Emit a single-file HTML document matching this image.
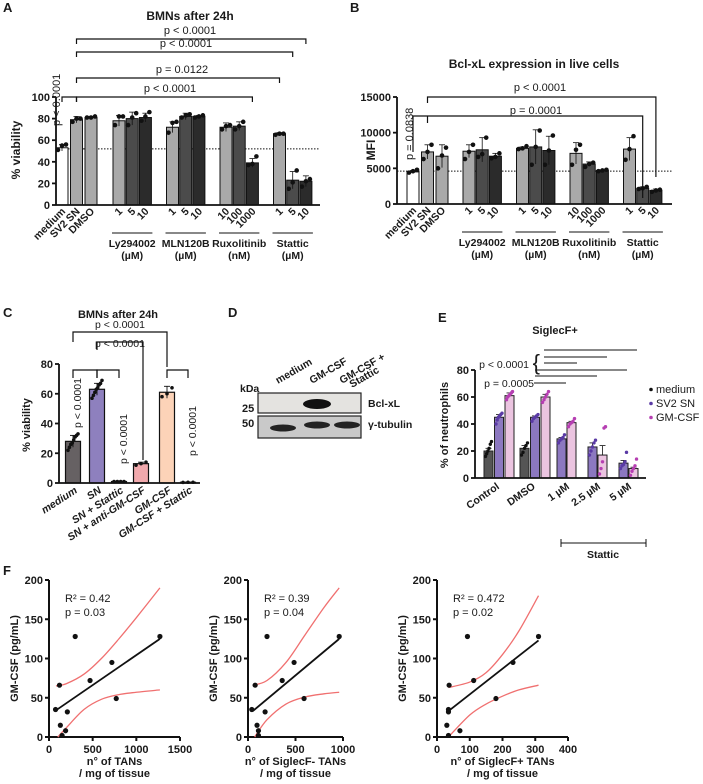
<!DOCTYPE html>
<html><head><meta charset="utf-8">
<style>
html,body{margin:0;padding:0;background:#fff;}
svg{display:block;font-family:"Liberation Sans",Arial,sans-serif;}
text{fill:#1a1a1a;}
</style></head>
<body>
<svg id="fig" width="703" height="784" viewBox="0 0 703 784" xmlns="http://www.w3.org/2000/svg"></svg>
<script>
// ---------- Panel A data ----------
const aCategories = ["medium","SV2 SN","DMSO","1","5","10","1","5","10","10","100","1000","1","5","10"];
const aValues = [53,79,81,78,80,81,72,82,82,72,73,39,66,23,22];
const aErr = [3,3,1,5,6,4,5,3,1,4,4,4,1,8,5];
const aReps = [[51,55,56],[77,80,80],[81,81,82],[74,82,82],[74,81,85],[78,82,86],[67,76,77],[81,83,84],[81,82,83],[70,73,74],[70,73,77],[37,38,45],[65,66,66],[15,21,32],[17,22,24]];
const aTicks = [0,20,40,60,80,100];
// ---------- Panel B data ----------
const bValues = [4500,7300,6700,7400,7600,6700,7800,8000,7500,7100,5600,4700,7700,2200,1900];
const bErr = [200,1000,1600,900,1700,400,200,2400,2000,1500,300,100,1600,200,200];
const bReps = [[4400,4600,4800],[6300,7300,8300],[5000,6800,7900],[6300,7300,8300],[6600,7000,9300],[6400,6600,7100],[7700,7800,8100],[5500,8000,10300],[5500,7500,9600],[5500,7600,8300],[5200,5600,5800],[4600,4700,4800],[6200,7700,9500],[2100,2200,2400],[1700,1900,2000]];
const bTicks = [0,5000,10000,15000];
const groupLabels = [["Ly294002","(\u00b5M)"],["MLN120B","(\u00b5M)"],["Ruxolitinib","(nM)"],["Stattic","(\u00b5M)"]];
// ---------- Panel C data ----------
const cCategories = ["medium","SN","SN + Stattic","SN + anti-GM-CSF","GM-CSF","GM-CSF + Stattic"];
const cValues = [28,63,1,13,61,0.5];
const cErr = [4,4,0.3,1,4,0.1];
const cReps = [[22,24,26,27,29,31,32,33],[57,59,61,63,64,66,67,69],[1,1,1,1],[12,13,14],[58,60,64],[0.4,0.5,0.5]];
const cTicks = [0,20,40,60,80];
// ---------- Panel E data ----------
const eCategories = ["Control","DMSO","1 \u00b5M","2.5 \u00b5M","5 \u00b5M"];
const eMedium = [20,22,null,null,null];
const eSV2 = [45,45,29,23,11];
const eGM = [61,60,41,17,7];
const eErrMedium = [2,2,0,0,0];
const eErrSV2 = [2,1,1,3,2];
const eErrGM = [2,2,1,7,1];
const eRepsMedium = [[16,18,20,22,25,27],[17,19,22,24,26]];
const eRepsSV2 = [[40,43,45,46,47,48],[42,44,45,46,47],[26,28,29,30,32],[17,20,23,26,28],[7,9,10,12,19]];
const eRepsGM = [[58,60,61,62,63,64],[56,58,60,62,64],[38,40,41,42,44],[3,7,12,37,38],[2,5,7,9,14]];
const eTicks = [0,20,40,60,80];
// ---------- Panel F data ----------
const f1X = [75,120,130,150,190,210,300,470,720,770,1270];
const f1Y = [35,66,15,2,8,32,128,72,95,49,128];
const f2X = [40,75,95,110,110,180,200,360,485,590,960];
const f2Y = [35,66,15,8,2,32,128,72,95,49,128];
const f3X = [30,35,35,35,37,70,93,112,180,232,310];
const f3Y = [15,2,35,32,66,8,128,72,49,95,128];
const f1Fit = [[80,34],[1270,125]];
const f2Fit = [[50,33],[960,125]];
const f3Fit = [[35,33],[310,123]];
const f1Upper = [[80,65],[200,68],[400,80],[600,100],[800,125],[1000,152],[1270,190]];
const f1Lower = [[100,0],[200,12],[400,35],[600,48],[800,54],[1000,57],[1270,60]];
const f2Upper = [[50,66],[200,72],[400,95],[600,130],[800,165],[960,190]];
const f2Lower = [[70,0],[200,22],[400,42],[600,51],[800,55],[960,57]];
const f3Upper = [[35,63],[100,70],[150,82],[200,105],[250,135],[310,180]];
const f3Lower = [[35,0],[100,28],[150,42],[200,52],[250,60],[310,66]];
const fYTicks = [0,50,100,150,200];
const f1XTicks = [0,500,1000,1500];
const f2XTicks = [0,500,1000];
const f3XTicks = [0,100,200,300,400];

const NS="http://www.w3.org/2000/svg";
const fig=document.getElementById('fig');
function mk(parent,tag,attrs,name,inter){
  const e=document.createElementNS(NS,tag);
  for(const k in attrs)e.setAttribute(k,attrs[k]);
  
  
  parent.appendChild(e);return e;
}
function txt(parent,x,y,s,size,name,opt){
  opt=opt||{};
  const a={x:x,y:y,'font-size':size};
  if(opt.bold)a['font-weight']='bold';
  if(opt.anchor)a['text-anchor']=opt.anchor;
  if(opt.rot!==undefined)a.transform='rotate('+opt.rot+' '+x+' '+y+')';
  if(opt.italic)a['font-style']='italic';
  const t=mk(parent,'text',a,name,false);t.textContent=s;return t;
}
function line(p,x1,y1,x2,y2,name,st){
  st=st||{};
  return mk(p,'line',{x1:x1,y1:y1,x2:x2,y2:y2,stroke:st.c||'#111','stroke-width':st.w||1.2,'stroke-dasharray':st.d||'none'},name,false);
}
function pline(p,pts,name,st){
  return mk(p,'polyline',{points:pts.map(q=>q.join(',')).join(' '),fill:'none',stroke:st.c||'#111','stroke-width':st.w||1.2},name,false);
}
function smooth(p,pts,name,st){
  let d='M'+pts[0][0]+','+pts[0][1];
  for(let i=0;i<pts.length-1;i++){
    const p0=pts[Math.max(0,i-1)],p1=pts[i],p2=pts[i+1],p3=pts[Math.min(pts.length-1,i+2)];
    const c1=[p1[0]+(p2[0]-p0[0])/6,p1[1]+(p2[1]-p0[1])/6],c2=[p2[0]-(p3[0]-p1[0])/6,p2[1]-(p3[1]-p1[1])/6];
    d+=' C'+c1.join(',')+' '+c2.join(',')+' '+p2.join(',');
  }
  return mk(p,'path',{d:d,fill:'none',stroke:st.c,'stroke-width':st.w},name,false);
}
function yAxis(g,x,ys,ticks,top,bottom,fs,name){
  line(g,x,top,x,bottom,name+'-line',{w:1.8});
  ticks.forEach(t=>{const y=ys(t);line(g,x-4,y,x,y,name+'-tick',{w:1.8});txt(g,x-6,y+4,String(t),fs,name+'-label',{bold:true,anchor:'end'});});
}
function bracket(g,x1,x2,y,d1,d2,name){
  pline(g,[[x1,y+d1],[x1,y],[x2,y],[x2,y+d2]],name,{w:1.2});
}

// ================= Panel A =================
(function(){
  const g=mk(fig,'g',{},'panel-a',false);
  txt(g,3,12,'A',13,'panel-label-a',{bold:true});
  const ys=v=>205-v*1.08;
  const xs=i=>{const gi=i<3?0:1+Math.floor((i-3)/3);const j=i<3?i:(i-3)%3;return (i<3?62+j*14.5:119+(gi-1)*53.5+j*13.2);};
  const cols=['#ffffff','#a9a9a9','#a9a9a9'];
  const gcol=['#a9a9a9','#4b4b4b','#2b2b2b'];
  txt(g,190,20,'BMNs after 24h',12,'chart-title-a',{bold:true,anchor:'middle'});
  line(g,56,ys(52),320,ys(52),'reference-line-a',{d:'1.5,1.5',w:1});
  aValues.forEach((v,i)=>{
    const x=xs(i),w=12;const fill=i<3?cols[i]:gcol[(i-3)%3];
    mk(g,'rect',{x:x-w/2,y:ys(v),width:w,height:ys(0)-ys(v),fill:fill,stroke:'#111','stroke-width':1},'bar-a-'+i,false);
    const e=aErr[i];line(g,x,ys(v+e),x,ys(v-e),'error-bar-a',{w:0.8});line(g,x-3,ys(v+e),x+3,ys(v+e),'error-cap-a',{w:0.8});
    aReps[i].forEach((r,k)=>mk(g,'circle',{cx:x+[-4,0,4][k],cy:ys(r),r:2.3,fill:'#111'},'dot-a',false));
  });
  yAxis(g,56,ys,aTicks,ys(100),ys(0),11,'y-axis-a');
  line(g,56,ys(0),320,ys(0),'x-axis-a',{w:1.8});
  txt(g,20,150,'% viability',12,'y-axis-title-a',{bold:true,anchor:'middle',rot:-90});
  aCategories.forEach((c,i)=>txt(g,xs(i)+4,212,c,10.5,'x-tick-label-a',{bold:true,anchor:'end',rot:-45}));
  groupLabels.forEach((gl,k)=>{const x1=xs(3+k*3)-7,x2=xs(5+k*3)+7;line(g,x1,233,x2,233,'group-line-a',{w:1});const cx=(x1+x2)/2;
    txt(g,cx,247,gl[0],10.5,'group-label-a',{bold:true,anchor:'middle'});txt(g,cx,259,gl[1],10.5,'group-unit-a',{bold:true,anchor:'middle'});});
  bracket(g,xs(1),xs(14),39,5,5,'sig-bracket-a1');txt(g,190,34,'p < 0.0001',11,'p-value-a1',{anchor:'middle'});
  bracket(g,xs(1),xs(13),52,5,5,'sig-bracket-a2');txt(g,186,47,'p < 0.0001',11,'p-value-a2',{anchor:'middle'});
  bracket(g,xs(1),xs(12),78,5,5,'sig-bracket-a3');txt(g,182,73,'p = 0.0122',11,'p-value-a3',{anchor:'middle'});
  bracket(g,xs(1),xs(11),97,5,5,'sig-bracket-a4');txt(g,170,92,'p < 0.0001',11,'p-value-a4',{anchor:'middle'});
  bracket(g,xs(0),xs(1),97,5,5,'sig-bracket-a5');
  txt(g,60,126,'p < 0.0001',11,'p-value-a5',{rot:-90});
})();

// ================= Panel B =================
(function(){
  const g=mk(fig,'g',{},'panel-b',false);
  txt(g,350,12,'B',13,'panel-label-b',{bold:true});
  const ys=v=>204-v*(107/15000);
  const xs=i=>{if(i<3)return 413+i*14.5;const gi=Math.floor((i-3)/3),j=(i-3)%3;return 469+gi*53.5+j*13.2;};
  const cols=['#ffffff','#a9a9a9','#a9a9a9'];const gcol=['#a9a9a9','#4b4b4b','#2b2b2b'];
  txt(g,534,68,'Bcl-xL expression in live cells',12,'chart-title-b',{bold:true,anchor:'middle'});
  line(g,397,ys(4600),672,ys(4600),'reference-line-b',{d:'1.5,1.5',w:1});
  bValues.forEach((v,i)=>{
    const x=xs(i),w=12;const fill=i<3?cols[i]:gcol[(i-3)%3];
    mk(g,'rect',{x:x-w/2,y:ys(v),width:w,height:ys(0)-ys(v),fill:fill,stroke:'#111','stroke-width':1},'bar-b-'+i,false);
    const e=bErr[i];line(g,x,ys(v+e),x,ys(Math.max(0,v-e)),'error-bar-b',{w:0.8});line(g,x-3,ys(v+e),x+3,ys(v+e),'error-cap-b',{w:0.8});
    bReps[i].forEach((r,k)=>mk(g,'circle',{cx:x+[-4,0,4][k],cy:ys(r),r:2.3,fill:'#111'},'dot-b',false));
  });
  yAxis(g,397,ys,bTicks,ys(15000),ys(0),11,'y-axis-b');
  line(g,397,ys(0),672,ys(0),'x-axis-b',{w:1.8});
  txt(g,375,150,'MFI',12,'y-axis-title-b',{bold:true,anchor:'middle',rot:-90});
  aCategories.forEach((c,i)=>txt(g,xs(i)+4,211,c,10.5,'x-tick-label-b',{bold:true,anchor:'end',rot:-45}));
  groupLabels.forEach((gl,k)=>{const x1=xs(3+k*3)-7,x2=xs(5+k*3)+7;line(g,x1,232,x2,232,'group-line-b',{w:1});const cx=(x1+x2)/2;
    txt(g,cx,246,gl[0],10.5,'group-label-b',{bold:true,anchor:'middle'});txt(g,cx,258,gl[1],10.5,'group-unit-b',{bold:true,anchor:'middle'});});
  bracket(g,xs(1),xs(14),97,6,80,'sig-bracket-b1');txt(g,540,91,'p < 0.0001',11,'p-value-b1',{anchor:'middle'});
  bracket(g,xs(0),xs(13),116,36,82,'sig-bracket-b2');line(g,xs(1),116,xs(1),123,'sig-tick-b2',{w:1.2});
  txt(g,536,114,'p = 0.0001',11,'p-value-b2',{anchor:'middle'});
  txt(g,413,160,'p = 0.0838',11,'p-value-b3',{rot:-90});
})();

// ================= Panel C =================
(function(){
  const g=mk(fig,'g',{},'panel-c',false);
  txt(g,3,317,'C',13,'panel-label-c',{bold:true});
  const ys=v=>483-v*(119/80);
  const xsC=[73,97,119,141,167,188];
  const fills=['#666163','#8e80be','#dcdcdc','#f1a9ad','#fcd3b8','#eeeeee'];
  txt(g,118,318,'BMNs after 24h',11,'chart-title-c',{bold:true,anchor:'middle'});
  cValues.forEach((v,i)=>{
    const x=xsC[i],w=15;
    mk(g,'rect',{x:x-w/2,y:ys(v),width:w,height:Math.max(0.5,ys(0)-ys(v)),fill:fills[i],stroke:'#111','stroke-width':1.2},'bar-c-'+i,false);
    const e=cErr[i];line(g,x,ys(v+e),x,ys(Math.max(0,v-e)),'error-bar-c',{w:0.9});line(g,x-3,ys(v+e),x+3,ys(v+e),'error-cap-c',{w:0.9});
    const n=cReps[i].length;cReps[i].forEach((r,k)=>mk(g,'circle',{cx:x-5+(n>1?10*k/(n-1):0),cy:ys(r),r:1.8,fill:'#111'},'dot-c',false));
  });
  yAxis(g,59,ys,cTicks,ys(80),ys(0),11,'y-axis-c');
  line(g,59,ys(0),200,ys(0),'x-axis-c',{w:1.8});
  txt(g,30,425,'% viability',11,'y-axis-title-c',{bold:true,anchor:'middle',rot:-90});
  cCategories.forEach((c,i)=>txt(g,xsC[i]+5,492,c,10.5,'x-tick-label-c',{bold:true,anchor:'end',rot:-33,italic:true}));
  bracket(g,73,167,332,10,35,'sig-bracket-c1');txt(g,120,328,'p < 0.0001',10.5,'p-value-c1',{anchor:'middle'});
  bracket(g,97,143,342,8,118,'sig-bracket-c2');txt(g,120,347,'p < 0.0001',10.5,'p-value-c2',{anchor:'middle'});
  bracket(g,73,97,370,8,8,'sig-bracket-c3');bracket(g,97,119,370,8,8,'sig-bracket-c4');bracket(g,167,188,370,8,8,'sig-bracket-c5');
  txt(g,81,428,'p < 0.0001',10.5,'p-value-c3',{rot:-90});
  txt(g,127,464,'p < 0.0001',10.5,'p-value-c4',{rot:-90});
  txt(g,196,456,'p < 0.0001',10.5,'p-value-c5',{rot:-90});
})();

// ================= Panel D (western blot) =================
(function(){
  const g=mk(fig,'g',{},'panel-d',false);
  txt(g,228,317,'D',13,'panel-label-d',{bold:true});
  [['medium',278],['GM-CSF',312],['GM-CSF +',342]].forEach(l=>txt(g,l[1],384,l[0],10.5,'lane-label-d',{bold:true,rot:-30}));
  txt(g,352,388,'Stattic',10.5,'lane-label-d',{bold:true,rot:-30});
  txt(g,240,392,'kDa',10.5,'kda-label',{bold:true});
  txt(g,242,412,'25 -',11,'marker-25',{bold:true});
  txt(g,242,427,'50 -',11,'marker-50',{bold:true});
  mk(g,'rect',{x:258,y:393,width:103,height:20,fill:'#e4e3e0',stroke:'#222','stroke-width':1.2},'blot-bclxl',false);
  mk(g,'rect',{x:258,y:416,width:103,height:22,fill:'#c9c9c9',stroke:'#222','stroke-width':1.2},'blot-tubulin',false);
  mk(g,'ellipse',{cx:317,cy:404,rx:14,ry:5,fill:'#111'},'band-bclxl-gmcsf',false);
  [[283,428],[317,425],[347,425]].forEach(b=>mk(g,'ellipse',{cx:b[0],cy:b[1],rx:13,ry:3.5,fill:'#222'},'band-tubulin',false));
  txt(g,368,407,'Bcl-xL',10.5,'blot-label-bclxl',{bold:true});
  txt(g,368,428,'\u03b3-tubulin',10.5,'blot-label-tubulin',{bold:true});
})();

// ================= Panel E =================
(function(){
  const g=mk(fig,'g',{},'panel-e',false);
  txt(g,438,322,'E',13,'panel-label-e',{bold:true});
  const ys=v=>478-v*(108/80);
  const gx=[499,535,566,597,628];
  txt(g,555,334,'SiglecF+',11,'chart-title-e',{bold:true,anchor:'middle'});
  const series=[[eMedium,eErrMedium,eRepsMedium,'#555555','#111111',-10.5,'medium'],[eSV2,eErrSV2,eRepsSV2,'#8c78c0','#5a3aa5',0,'sv2'],[eGM,eErrGM,eRepsGM,'#ebc4e0','#b63fb2',10.5,'gm']];
  eCategories.forEach((c,i)=>{
    series.forEach(s=>{
      const v=s[0][i];if(v===null)return;
      let off=s[5];if(i>=2)off=s[6]==='sv2'?-4.5:(s[6]==='gm'?5.5:0);
      const x=gx[i]+off,w=9;
      mk(g,'rect',{x:x-w/2,y:ys(v),width:w,height:ys(0)-ys(v),fill:s[3],stroke:'#222','stroke-width':1},'bar-e-'+s[6],false);
      const e=s[1][i];line(g,x,ys(v+e),x,ys(v),'error-bar-e',{w:0.8});line(g,x-3,ys(v+e),x+3,ys(v+e),'error-cap-e',{w:0.8});
      const reps=s[2][i]||[];reps.forEach((r,k)=>mk(g,'circle',{cx:x-3+6*k/Math.max(1,reps.length-1),cy:ys(r),r:1.7,fill:s[4]},'dot-e',false));
    });
  });
  yAxis(g,475,ys,eTicks,ys(80),ys(0),11,'y-axis-e');
  line(g,475,ys(0),646,ys(0),'x-axis-e',{w:1.8});
  txt(g,448,425,'% of neutrophils',11,'y-axis-title-e',{bold:true,anchor:'middle',rot:-90});
  eCategories.forEach((c,i)=>txt(g,gx[i]+(i<2?-3:0)+4,488,c,10.5,'x-tick-label-e',{bold:true,anchor:'end',rot:-35}));
  line(g,561,543,646,543,'stattic-line-e',{w:1});line(g,561,539,561,547,'stattic-cap',{w:1});line(g,646,539,646,547,'stattic-cap',{w:1});
  txt(g,603,558,'Stattic',10.5,'stattic-label-e',{bold:true,anchor:'middle'});
  line(g,544,350,637,350,'sig-line-e1',{w:1});line(g,544,357,607,357,'sig-line-e2',{w:1});line(g,544,363,577,363,'sig-line-e3',{w:1});
  line(g,535,370,627,370,'sig-line-e4',{w:1});line(g,535,376,597,376,'sig-line-e5',{w:1});line(g,534,383,566,383,'sig-line-e6',{w:1});
  txt(g,529,368,'p < 0.0001',10.5,'p-value-e1',{anchor:'end'});
  txt(g,540,370,'{',22,'brace-e',{anchor:'end'});
  txt(g,534,387,'p = 0.0005',10.5,'p-value-e2',{anchor:'end'});
  [['medium','#111',393],['SV2 SN','#5a3aa5',407],['GM-CSF','#b63fb2',421]].forEach(l=>{
    mk(g,'circle',{cx:651,cy:l[2]-3.5,r:1.8,fill:l[1]},'legend-marker-e',false);
    txt(g,656,l[2],l[0],11,'legend-entry-e',{});
  });
})();

// ================= Panel F =================
function scatter(g,cfg){
  const xs=v=>cfg.x0+(v-cfg.xmin)*(cfg.x1-cfg.x0)/(cfg.xmax-cfg.xmin);
  const ys=v=>737-v*(157/200);
  line(g,cfg.x0,ys(200),cfg.x0,ys(0),cfg.id+'-y-axis-line',{w:2});
  fYTicks.forEach(t=>{line(g,cfg.x0-4,ys(t),cfg.x0,ys(t),cfg.id+'-y-tick',{w:2});txt(g,cfg.x0-6,ys(t)+4,String(t),11,cfg.id+'-y-tick-label',{bold:true,anchor:'end'});});
  line(g,cfg.x0,ys(0),cfg.x1,ys(0),cfg.id+'-x-axis-line',{w:2});
  cfg.xt.forEach(t=>{line(g,xs(t),ys(0),xs(t),ys(0)+4,cfg.id+'-x-tick',{w:2});txt(g,xs(t),ys(0)+16,String(t),11,cfg.id+'-x-tick-label',{bold:true,anchor:'middle'});});
  smooth(g,cfg.up.map(p=>[xs(p[0]),ys(p[1])]),cfg.id+'-ci-upper',{c:'#f07070',w:1.3});
  smooth(g,cfg.lo.map(p=>[xs(p[0]),ys(p[1])]),cfg.id+'-ci-lower',{c:'#f07070',w:1.3});
  pline(g,cfg.fit.map(p=>[xs(p[0]),ys(p[1])]),cfg.id+'-regression-line',{c:'#111',w:1.8});
  cfg.px.forEach((v,i)=>mk(g,'circle',{cx:xs(v),cy:ys(cfg.py[i]),r:2.6,fill:'#111'},cfg.id+'-point',false));
  txt(g,cfg.x0-31,ys(100),'GM-CSF (pg/mL)',11,cfg.id+'-y-axis-title',{bold:true,anchor:'middle',rot:-90});
  const cx=(cfg.x0+cfg.x1)/2;
  txt(g,cx,765,cfg.xl,11,cfg.id+'-x-axis-title',{bold:true,anchor:'middle'});
  txt(g,cx,777,'/ mg of tissue',11,cfg.id+'-x-axis-title-2',{bold:true,anchor:'middle'});
  txt(g,cfg.x0+16,602,cfg.r2,11,cfg.id+'-r2',{});
  txt(g,cfg.x0+16,616,cfg.p,11,cfg.id+'-pvalue',{});
}
(function(){
  const g=mk(fig,'g',{},'panel-f',false);
  txt(g,3,575,'F',13,'panel-label-f',{bold:true});
  scatter(g,{id:'f1',x0:49,x1:180,xmin:0,xmax:1500,xt:f1XTicks,px:f1X,py:f1Y,fit:f1Fit,up:f1Upper,lo:f1Lower,xl:'n\u00b0 of TANs',r2:'R\u00b2 = 0.42',p:'p = 0.03'});
  scatter(g,{id:'f2',x0:248,x1:343,xmin:0,xmax:1000,xt:f2XTicks,px:f2X,py:f2Y,fit:f2Fit,up:f2Upper,lo:f2Lower,xl:'n\u00b0 of SiglecF- TANs',r2:'R\u00b2 = 0.39',p:'p = 0.04'});
  scatter(g,{id:'f3',x0:437,x1:568,xmin:0,xmax:400,xt:f3XTicks,px:f3X,py:f3Y,fit:f3Fit,up:f3Upper,lo:f3Lower,xl:'n\u00b0 of SiglecF+ TANs',r2:'R\u00b2 = 0.472',p:'p = 0.02'});
})();
</script>
</body></html>
